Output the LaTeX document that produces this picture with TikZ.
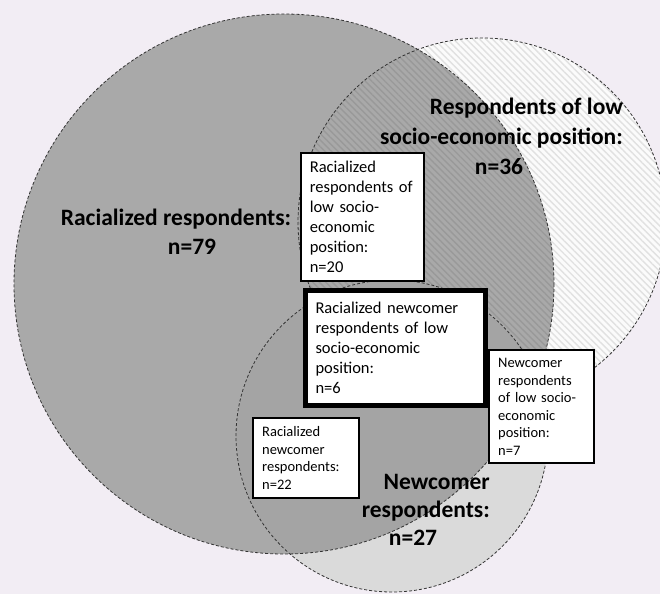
\documentclass[tikz,border=0pt]{standalone}
\usepackage{fontspec}
\setmainfont{Carlito}
\usetikzlibrary{patterns.meta}
\definecolor{backdrop}{HTML}{F2EDF4}
\definecolor{racialgray}{HTML}{A9A9A9}
\definecolor{newcomergray}{HTML}{DADADA}
\definecolor{hatchlight}{HTML}{E1E1E1}
\definecolor{hatchdark}{HTML}{999999}

\tikzset{
  setborder/.style={densely dashed, black!80, line width=0.8pt},
  hatching/.style={pattern={Lines[angle=-45, distance=4.6pt, line width=1.4pt]}, pattern color=#1},
  setlabel/.style={font=\fontsize{23.5}{28}\selectfont\bfseries, inner sep=0pt},
  countbox/.style={draw=black, fill=white, anchor=north west, align=left, inner xsep=9pt, inner ysep=0pt},
  bigtext/.style={font=\fontsize{16.5}{20}\selectfont},
  smalltext/.style={font=\fontsize{14.5}{17.5}\selectfont},
}

\begin{document}
\begin{tikzpicture}[x=1pt, y=-1pt]
  % Canvas
  \useasboundingbox (0,0) rectangle (660,594);
  \fill[backdrop] (0,0) rectangle (660,594);
  \clip (0,0) rectangle (660,594);

  % Circle centres
  \coordinate (racial) at (284,284);
  \coordinate (lowsep) at (482,222);
  \coordinate (newcomer) at (392,436);

  % Low socio-economic position (hatched), racialized on top of it
  \fill[white!97!gray] (lowsep) circle (184);
  \fill[hatching=hatchlight] (lowsep) circle (184);
  \fill[racialgray] (racial) circle (270);
  \begin{scope}
    \clip (racial) circle (270);
    \fill[hatching=hatchdark] (lowsep) circle (184);
  \end{scope}

  % Newcomer, darker where it meets the racialized circle
  \fill[newcomergray] (newcomer) circle (156);
  \begin{scope}
    \clip (newcomer) circle (156);
    \fill[racialgray!97!black] (racial) circle (270);
  \end{scope}

  % Dashed outlines
  \draw[setborder] (racial) circle (270);
  \draw[setborder] (lowsep) circle (184);
  \draw[setborder] (newcomer) circle (156);

  % Set labels
  \node[setlabel, anchor=base] (racialname) at (176,225) {Racialized respondents:};
  \node[setlabel, anchor=base] (racialcount) at (192,254) {n=79};
  \node[setlabel, anchor=base east] (lowsepname) at (623,114) {Respondents of low};
  \node[setlabel, anchor=base east] (lowsepname2) at (623,144) {socio-economic position:};
  \node[setlabel, anchor=base] (lowsepcount) at (499,174) {n=36};
  \node[setlabel, anchor=base east] (newcomername) at (490,489) {Newcomer};
  \node[setlabel, anchor=base east] (newcomername2) at (490,517) {respondents:};
  \node[setlabel, anchor=base] (newcomercount) at (413,545) {n=27};

  % Intersection boxes
  \node[countbox, bigtext, line width=1.6pt, minimum width=123pt, minimum height=128pt, text width=105pt]
    (racialsep) at (300,152) {Racialized\\respondents of\\low socio-\\economic\\position:\\n=20};
  \node[countbox, bigtext, line width=5pt, inner xsep=10pt, minimum width=180pt, minimum height=115pt, text width=160pt]
    (allthree) at (303,288) {Racialized newcomer\\respondents of low\\socio-economic\\position:\\n=6};
  \node[countbox, smalltext, line width=2.4pt, minimum width=105pt, minimum height=113pt, text width=87pt]
    (newcomersep) at (488,349) {Newcomer\\respondents\\of low socio-\\economic\\position:\\n=7};
  \node[countbox, smalltext, line width=2.4pt, minimum width=106pt, minimum height=80pt, text width=88pt]
    (racialnewcomer) at (252,417) {Racialized\\newcomer\\respondents:\\n=22};
\end{tikzpicture}
\end{document}
